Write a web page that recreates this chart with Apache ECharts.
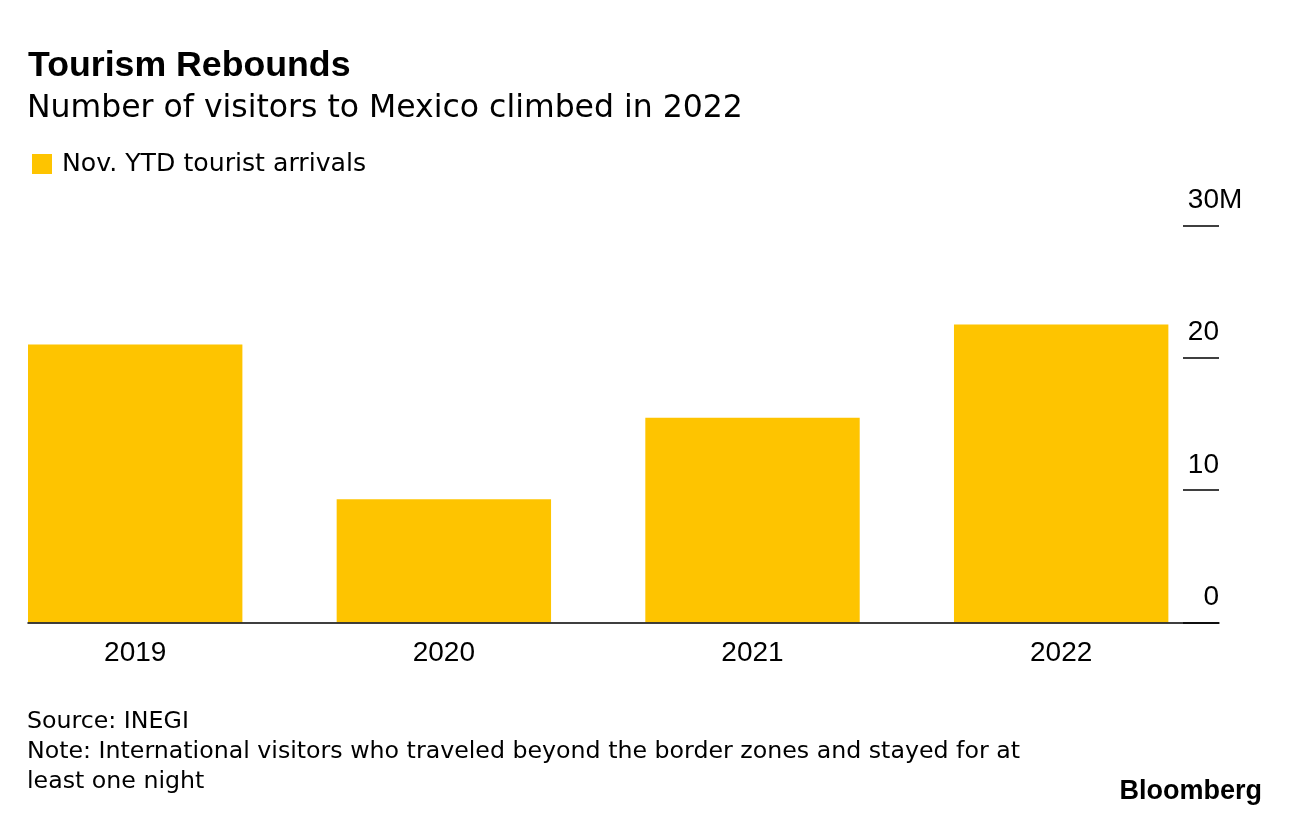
<!DOCTYPE html>
<html>
<head>
<meta charset="utf-8">
<script src="https://cdn.jsdelivr.net/npm/echarts@6/dist/echarts.min.js"></script>
<style>
html,body{margin:0;padding:0;background:#fff;overflow:hidden;}
#wrap{width:1289px;height:816px;overflow:hidden;position:relative;}
#chart{position:absolute;left:-40px;top:0;width:1329px;height:816px;}
</style>
</head>
<body>
<div id="wrap"><div id="chart"></div></div>
<script>
// ---- data ----
var categories = ['2019', '2020', '2021', '2022'];
var arrivals = [21.0, 9.3, 15.45, 22.5];          // millions, Nov. YTD tourist arrivals
var yTickValues = [0, 10, 20, 30];
var yUnit = 'M';
var seriesName = 'Nov. YTD tourist arrivals';
var titleText = 'Tourism Rebounds';
var subtitleText = 'Number of visitors to Mexico climbed in 2022';
var footLines = ['Source: INEGI',
  'Note: International visitors who traveled beyond the border zones and stayed for at',
  'least one night'];
var brand = 'Bloomberg';

// ---- styles ----
var YELLOW = '#FEC400';
var INK = '#000000';
var BODY = '"DejaVu Sans", sans-serif';
var HEAD = '"Liberation Sans", Arial, sans-serif';
var OFF = 40; // chart canvas starts 40px left of the visible page
var yMin = yTickValues[0], yMax = yTickValues[yTickValues.length - 1];
var yStep = yTickValues[1] - yTickValues[0];

var chart = echarts.init(document.getElementById('chart'), null, {renderer: 'canvas'});
var plotTop = 225.3, plotBottom = 193.7;

chart.setOption({
  backgroundColor: '#fff',
  animation: false,
  title: [
    {text: titleText, left: OFF + 28, top: 48, padding: 0,
     textStyle: {fontFamily: HEAD, fontWeight: 'bold', fontSize: 35.7, color: INK}},
    {text: subtitleText, left: OFF + 27, top: 92.5, padding: 0,
     textStyle: {fontFamily: BODY, fontWeight: 'normal', fontSize: 31.5, color: INK}},
    {text: footLines.join('\n'), left: OFF + 27, top: 707, padding: 0,
     textStyle: {fontFamily: BODY, fontWeight: 'normal', fontSize: 23.7, lineHeight: 30, color: INK}},
    {text: brand, right: 27, top: 778, padding: 0,
     textStyle: {fontFamily: HEAD, fontWeight: 'bold', fontSize: 27, color: INK}}
  ],
  legend: {
    left: OFF + 32, top: 151.5, padding: 0, itemWidth: 20, itemHeight: 20, icon: 'rect',
    selectedMode: false,
    textStyle: {fontFamily: BODY, fontSize: 25.2, color: INK, padding: [0, 0, 0, 5]},
    data: [seriesName]
  },
  grid: [
    {left: OFF - 19.13, right: 73.5, top: plotTop, bottom: plotBottom},
    {left: OFF + 28, right: 70, top: plotTop, bottom: plotBottom},
    {left: OFF + 28, right: 70, top: plotTop, bottom: plotBottom}
  ],
  xAxis: [
    {type: 'category', gridIndex: 0, data: categories,
     axisLine: {show: false}, axisTick: {show: false},
     axisLabel: {fontFamily: HEAD, fontSize: 28, color: INK, margin: 17}},
    {type: 'value', gridIndex: 1, min: 0, max: 1, z: 10, position: 'bottom',
     axisLine: {show: true, onZero: false, lineStyle: {color: INK, width: 1.5}},
     axisTick: {show: false}, axisLabel: {show: false}, splitLine: {show: false}},
    {type: 'value', gridIndex: 2, min: 0, max: 1, show: false, splitLine: {show: false},
     axisLine: {onZero: false}}
  ],
  yAxis: [
    {type: 'value', gridIndex: 0, min: yMin, max: yMax, interval: yStep, show: false,
     splitLine: {show: false}},
    {type: 'value', gridIndex: 1, min: yMin, max: yMax, interval: yStep, position: 'right', z: 10,
     axisLine: {show: false, onZero: false}, splitLine: {show: false},
     axisTick: {show: true, inside: true, length: 36, lineStyle: {color: INK, width: 1.5}},
     axisLabel: {inside: true, margin: 0, align: 'right', verticalAlign: 'bottom',
       padding: [0, 0, 11, 0], fontFamily: HEAD, fontSize: 28, color: INK,
       formatter: function (v) { return String(v); }}},
    {type: 'value', gridIndex: 2, min: yMin, max: yMax, interval: yStep, position: 'right',
     axisLine: {show: false, onZero: false}, splitLine: {show: false}, axisTick: {show: false},
     axisLabel: {inside: true, margin: 0, align: 'left', verticalAlign: 'bottom',
       padding: [0, 0, 11, 0], fontFamily: HEAD, fontSize: 28, color: INK,
       formatter: function (v) { return v === yMax ? yUnit : ''; }}}
  ],
  series: [
    {name: seriesName, type: 'bar', xAxisIndex: 0, yAxisIndex: 0,
     data: arrivals, barCategoryGap: '30.54%',
     itemStyle: {color: YELLOW}}
  ]
});
</script>
</body>
</html>
